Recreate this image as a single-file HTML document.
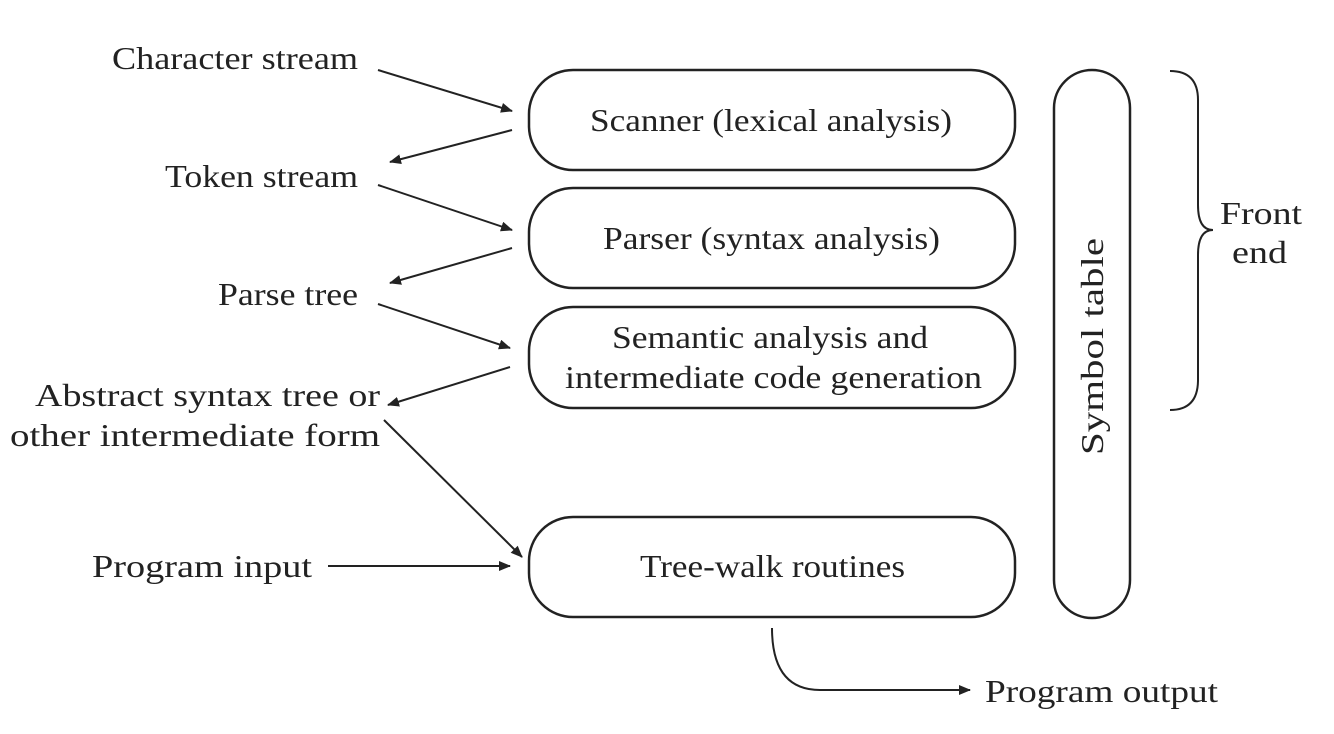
<!DOCTYPE html>
<html><head><meta charset="utf-8"><style>
html,body{margin:0;padding:0;background:#fff;}
svg{display:block;}
text{font-family:"Liberation Serif",serif;font-size:32px;fill:#222;}
</style></head><body>
<svg width="1334" height="734" viewBox="0 0 1334 734" xmlns="http://www.w3.org/2000/svg">
<defs><marker id="a" markerWidth="12" markerHeight="10" refX="11" refY="5" orient="auto" markerUnits="userSpaceOnUse"><path d="M0,0 L12,5 L0,10 Z" fill="#222"/></marker></defs>
<g fill="none" stroke="#222" stroke-width="2.5">
<rect x="529" y="70" width="486" height="100" rx="44"/>
<rect x="529" y="188" width="486" height="100" rx="44"/>
<rect x="529" y="307" width="486" height="101" rx="44"/>
<rect x="529" y="517" width="486" height="100" rx="44"/>
<rect x="1054" y="70" width="76" height="548" rx="38"/>
<path d="M1170,71 Q1198,71 1198,100 L1198,205 Q1198,230 1213,230 Q1198,230 1198,255 L1198,380 Q1198,410 1170,410" stroke-width="2"/>
</g>
<g stroke="#222" stroke-width="2" marker-end="url(#a)" fill="none">
<line x1="378" y1="70" x2="512" y2="111"/>
<line x1="512" y1="130" x2="390" y2="162"/>
<line x1="378" y1="185" x2="512" y2="230"/>
<line x1="512" y1="248" x2="390" y2="283"/>
<line x1="378" y1="304" x2="510" y2="348"/>
<line x1="510" y1="367" x2="388" y2="405"/>
<line x1="384" y1="420" x2="522" y2="557"/>
<line x1="328" y1="566" x2="510" y2="566"/>
<path d="M772,628 Q772,690 820,690 L970,690"/>
</g>
<g text-anchor="start" lengthAdjust="spacingAndGlyphs">
<text x="112" y="69" textLength="246" lengthAdjust="spacingAndGlyphs">Character stream</text>
<text x="165" y="187" textLength="193" lengthAdjust="spacingAndGlyphs">Token stream</text>
<text x="218" y="305" textLength="140" lengthAdjust="spacingAndGlyphs">Parse tree</text>
<text x="35" y="406" textLength="345" lengthAdjust="spacingAndGlyphs">Abstract syntax tree or</text>
<text x="10" y="446" textLength="370" lengthAdjust="spacingAndGlyphs">other intermediate form</text>
<text x="92" y="577" textLength="220" lengthAdjust="spacingAndGlyphs">Program input</text>
<text x="590" y="131" textLength="362" lengthAdjust="spacingAndGlyphs">Scanner (lexical analysis)</text>
<text x="603" y="249" textLength="337" lengthAdjust="spacingAndGlyphs">Parser (syntax analysis)</text>
<text x="612" y="348" textLength="316" lengthAdjust="spacingAndGlyphs">Semantic analysis and</text>
<text x="565" y="388" textLength="417" lengthAdjust="spacingAndGlyphs">intermediate code generation</text>
<text x="640" y="577" textLength="265" lengthAdjust="spacingAndGlyphs">Tree-walk routines</text>
<text x="1220" y="224" textLength="82" lengthAdjust="spacingAndGlyphs">Front</text>
<text x="1232" y="263" textLength="55" lengthAdjust="spacingAndGlyphs">end</text>
<text x="985" y="702" textLength="233" lengthAdjust="spacingAndGlyphs">Program output</text>
<text transform="translate(1103,455) rotate(-90)" textLength="217" lengthAdjust="spacingAndGlyphs">Symbol table</text>
</g>
</svg>
</body></html>
